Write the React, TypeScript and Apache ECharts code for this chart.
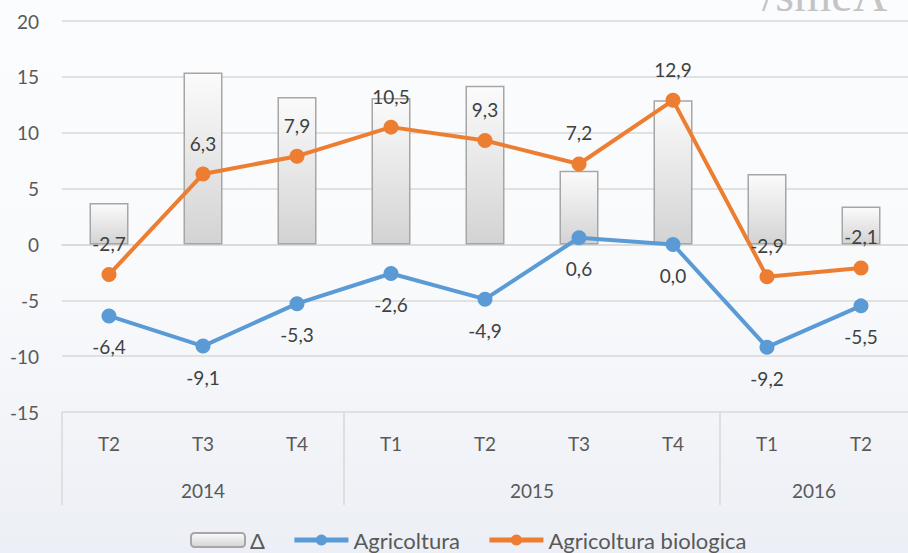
import React, { useEffect, useRef } from "react";
import * as echarts from "echarts";

const quarters = ["T2", "T3", "T4", "T1", "T2", "T3", "T4", "T1", "T2"];
const years = ["2014", "2015", "2016"];
const yearSpans = [3, 4, 2];
const delta = [3.7, 15.4, 13.2, 13.1, 14.2, 6.6, 12.9, 6.3, 3.4];
const agricoltura = [-6.4, -9.1, -5.3, -2.6, -4.9, 0.6, 0.0, -9.2, -5.5];
const biologica = [-2.7, 6.3, 7.9, 10.5, 9.3, 7.2, 12.9, -2.9, -2.1];
const yTicks = { min: -15, max: 20, step: 5 };

const FONT = "Lato, 'Open Sans', sans-serif";
const BLUE = "#5b9bd5";
const ORANGE = "#ed7d31";
const fmt = (v: number) => v.toFixed(1).replace(".", ",");

export default function App() {
  const ref = useRef<HTMLDivElement>(null);
  useEffect(() => {
    if (!ref.current) return;
    const chart = echarts.init(ref.current, null, { renderer: "svg" });
    const boundaries: number[] = [0];
    const centers: number[] = [];
    let acc = 0;
    yearSpans.forEach((s) => {
      centers.push(acc + s / 2);
      acc += s;
      boundaries.push(acc);
    });
    const barFill = new echarts.graphic.LinearGradient(0, 0, 0, 1, [
      { offset: 0, color: "#fbfbfb" },
      { offset: 1, color: "#d3d3d3" },
    ]);
    chart.setOption({
      animation: false,
      backgroundColor: new echarts.graphic.LinearGradient(0, 0, 0, 1, [
        { offset: 0, color: "#fbfcfe" },
        { offset: 0.5, color: "#f9fafc" },
        { offset: 1, color: "#eceff5" },
      ]),
      textStyle: { fontFamily: FONT },
      graphic: [
        {
          type: "text",
          left: 762,
          top: -30,
          silent: true,
          style: {
            text: "/smeA",
            font: "48px 'Liberation Serif', serif",
            fill: "#c4c4c4",
          },
          z: 0,
        },
      ],
      grid: { left: 62, right: -5, top: 21, bottom: 141 },
      legend: {
        bottom: -3,
        left: 185,
        itemWidth: 54,
        itemHeight: 14,
        itemGap: 27,
        lineStyle: { width: 5 },
        textStyle: { fontSize: 22, color: "#595959", fontFamily: FONT },
        data: [
          { name: "Δ" },
          {
            name: "Agricoltura",
            lineStyle: { width: 5, color: BLUE },
            itemStyle: { color: BLUE },
          },
          {
            name: "Agricoltura biologica",
            lineStyle: { width: 5, color: ORANGE },
            itemStyle: { color: ORANGE },
          },
        ],
      },
      xAxis: [
        {
          type: "category",
          data: quarters,
          axisLine: { lineStyle: { color: "#d9d9d9", width: 1.5 } },
          axisTick: { show: false },
          axisLabel: { fontSize: 19, color: "#595959", margin: 22, fontFamily: FONT },
        },
        {
          type: "value",
          min: 0,
          max: quarters.length,
          position: "bottom",
          axisLine: { show: false },
          splitLine: { show: false },
          axisTick: {
            show: true,
            customValues: boundaries.slice(0, -1),
            length: 93,
            lineStyle: { color: "#d9d9d9", width: 1.5 },
          },
          axisLabel: {
            customValues: centers,
            formatter: (v: number) => years[centers.indexOf(v)] ?? "",
            fontSize: 19,
            color: "#595959",
            margin: 69,
            fontFamily: FONT,
          },
        },
      ],
      yAxis: {
        type: "value",
        min: yTicks.min,
        max: yTicks.max,
        interval: yTicks.step,
        axisLine: { show: false },
        axisTick: { show: false },
        axisLabel: { fontSize: 19, color: "#595959", margin: 23, fontFamily: FONT },
        splitLine: { lineStyle: { color: "#d9d9d9", width: 1.5 } },
      },
      series: [
        {
          name: "Δ",
          type: "bar",
          data: delta,
          barWidth: 39,
          itemStyle: { color: barFill, borderColor: "#a6a6a6", borderWidth: 1.5 },
          z: 2,
        },
        {
          name: "Agricoltura",
          type: "line",
          data: agricoltura,
          symbol: "circle",
          symbolSize: 15,
          lineStyle: { color: BLUE, width: 4 },
          itemStyle: { color: BLUE },
          label: {
            show: true,
            position: "bottom",
            distance: 14,
            fontSize: 19,
            color: "#404040",
            fontFamily: FONT,
            formatter: (p: any) => fmt(p.value),
          },
          z: 3,
        },
        {
          name: "Agricoltura biologica",
          type: "line",
          data: biologica,
          symbol: "circle",
          symbolSize: 15,
          lineStyle: { color: ORANGE, width: 4 },
          itemStyle: { color: ORANGE },
          label: {
            show: true,
            position: "top",
            distance: 14,
            fontSize: 19,
            color: "#404040",
            fontFamily: FONT,
            formatter: (p: any) => fmt(p.value),
          },
          z: 4,
        },
      ],
    });
    return () => chart.dispose();
  }, []);
  return (
    <div
      ref={ref}
      style={{ position: "fixed", left: 0, top: 0, width: 908, height: 553 }}
    />
  );
}
